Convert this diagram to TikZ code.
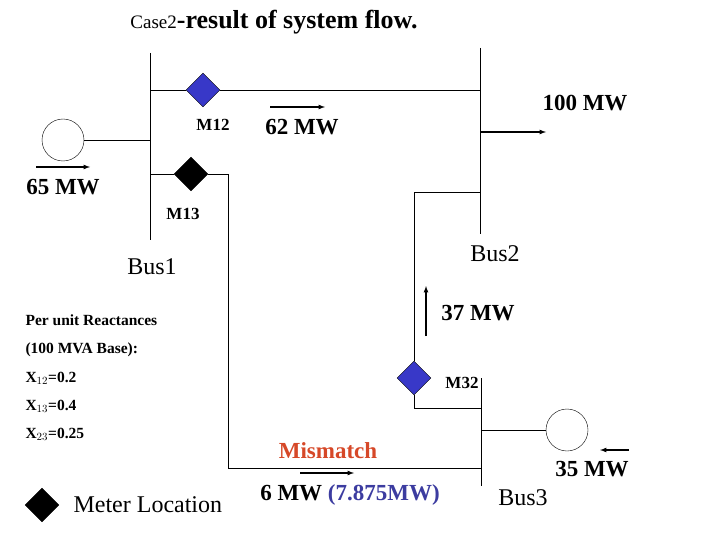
\documentclass[tikz,border=0pt]{standalone}
\usepackage{fontspec}
\setmainfont{Liberation Serif}
\usetikzlibrary{shapes.geometric}
\definecolor{meterblue}{RGB}{56,56,200}
\definecolor{mismatch}{RGB}{214,72,40}
\definecolor{valblue}{RGB}{60,60,160}
\tikzset{
  meter/.style={diamond, draw=black, fill=#1, minimum size=34pt, inner sep=0pt},
  gen/.style={circle, draw, minimum size=42pt, inner sep=0pt},
  flow/.style={-latex, line width=1.2pt},
  big/.style={font=\fontsize{23}{23}\selectfont\bfseries},
  lab/.style={font=\fontsize{17}{17}\selectfont\bfseries},
  bus/.style={font=\fontsize{24}{24}\selectfont},
  note/.style={font=\fontsize{15.5}{15.5}\selectfont\bfseries, anchor=west}
}
\begin{document}
\begin{tikzpicture}[x=1pt,y=-1pt]
\useasboundingbox (0,0) rectangle (720,540);
% title
\node at (274,22) {\fontsize{19}{19}\selectfont Case2\fontsize{26}{26}\selectfont\bfseries-result of system flow.};
% buses
\coordinate (b1t) at (150,53); \coordinate (b1b) at (150,240);
\coordinate (b2t) at (480,48); \coordinate (b2b) at (480,234);
\coordinate (b3t) at (481,378); \coordinate (b3b) at (481,486);
\draw (b1t) -- (b1b);
\draw (b2t) -- (b2b);
\draw (b3t) -- (b3b);
% meters
\node[meter=meterblue] (m12) at (203,90) {};
\node[meter=black] (m13) at (191,174) {};
\node[meter=meterblue] (m32) at (414,378) {};
% generators
\node[gen] (g1) at (63,140) {};
\node[gen] (g3) at (567,430) {};
% lines
\draw (150,90) -- (m12) -- (480,90);
\draw (150,174) -- (m13) -- (228,174) -- (228,468) -- (481,468);
\draw (480,192) -- (414,192) -- (m32) -- (414,408) -- (481,408);
\draw (g1) -- (150,140);
\draw (g3) -- (481,430);
% flows
\draw[flow] (36,167) -- (90,167);
\draw[flow] (270,107) -- (325,107);
\draw[flow] (481,132) -- (546,132);
\draw[flow] (426,336) -- (426,286);
\draw[flow] (300,473) -- (354,473);
\draw[flow] (629,450) -- (600,450);
% labels
\node[big] at (63,187) {65 MW};
\node[big] at (302,127) {62 MW};
\node[big] at (585,103) {100 MW};
\node[big] at (478,313) {37 MW};
\node[big] at (592,469) {35 MW};
\node[lab] at (213,125) {M12};
\node[lab] at (183,214) {M13};
\node[lab] at (462,383) {M32};
\node[bus] at (152,267) {Bus1};
\node[bus] at (495,254) {Bus2};
\node[bus] at (523,498) {Bus3};
\node[big, text=mismatch] at (328,451) {Mismatch};
\node[big] at (350,495) {6 MW \textcolor{valblue}{(7.875MW)}};
% reactances
\node[note] at (22,320) {Per unit Reactances};
\node[note] at (22,350) {(100 MVA Base):};
\node[note] at (22,378) {X$_{12}$=0.2};
\node[note] at (22,406) {X$_{13}$=0.4};
\node[note] at (22,434) {X$_{23}$=0.25};
% legend
\node[meter=black] (key) at (42,505) {};
\node[bus, anchor=west] at (70,505) {Meter Location};
\end{tikzpicture}
\end{document}
